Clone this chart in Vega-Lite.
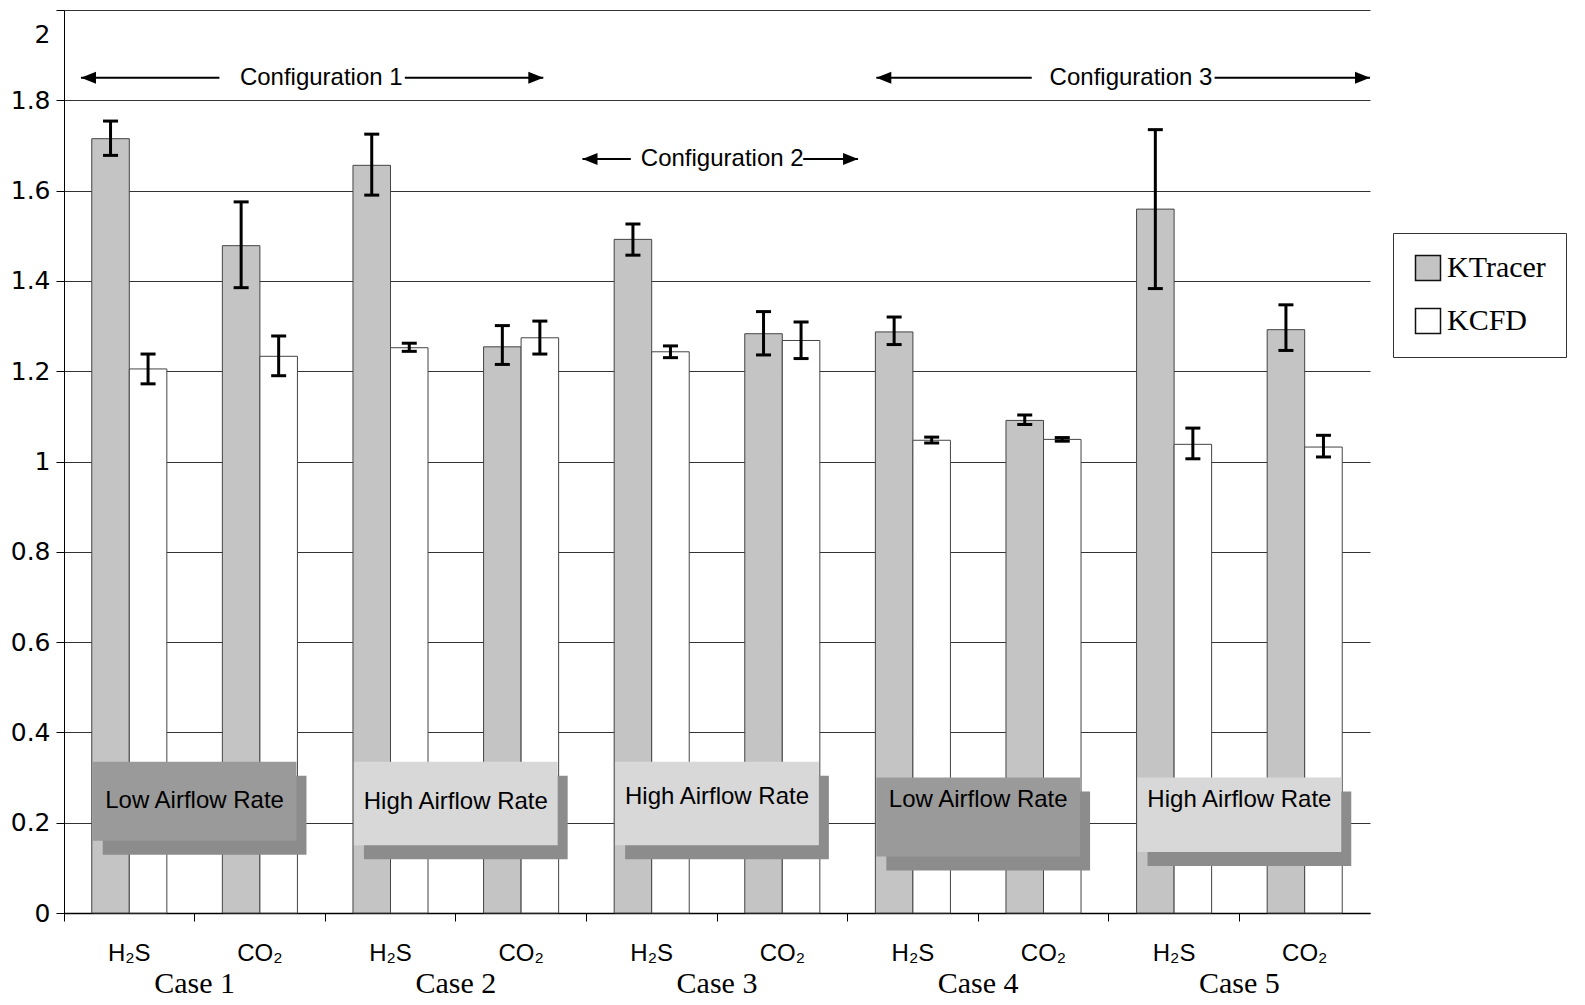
{
  "$schema": "https://vega.github.io/schema/vega-lite/v6.json",
  "width": 1306,
  "height": 903,
  "autosize": {"type": "none"},
  "padding": {"left": 64, "top": 10, "right": 215, "bottom": 92},
  "background": "white",
  "config": {
    "view": {"stroke": null},
    "font": "Liberation Sans",
    "axis": {"labelColor": "black", "domainColor": "black", "tickColor": "black", "labelFont": "Liberation Sans"}
  },
  "datasets": {
    "bars": [
      {"group": "1 H2S", "series": "Tracer", "value": 1.715, "lo": 1.678, "hi": 1.754},
      {"group": "1 H2S", "series": "CFD", "value": 1.205, "lo": 1.172, "hi": 1.238},
      {"group": "1 CO2", "series": "Tracer", "value": 1.478, "lo": 1.385, "hi": 1.575},
      {"group": "1 CO2", "series": "CFD", "value": 1.233, "lo": 1.19, "hi": 1.278},
      {"group": "2 H2S", "series": "Tracer", "value": 1.656, "lo": 1.59, "hi": 1.725},
      {"group": "2 H2S", "series": "CFD", "value": 1.252, "lo": 1.244, "hi": 1.262},
      {"group": "2 CO2", "series": "Tracer", "value": 1.254, "lo": 1.215, "hi": 1.301},
      {"group": "2 CO2", "series": "CFD", "value": 1.274, "lo": 1.238, "hi": 1.311},
      {"group": "3 H2S", "series": "Tracer", "value": 1.492, "lo": 1.457, "hi": 1.526},
      {"group": "3 H2S", "series": "CFD", "value": 1.243, "lo": 1.23, "hi": 1.256},
      {"group": "3 CO2", "series": "Tracer", "value": 1.283, "lo": 1.236, "hi": 1.332},
      {"group": "3 CO2", "series": "CFD", "value": 1.268, "lo": 1.228, "hi": 1.309},
      {"group": "4 H2S", "series": "Tracer", "value": 1.287, "lo": 1.259, "hi": 1.32},
      {"group": "4 H2S", "series": "CFD", "value": 1.047, "lo": 1.041, "hi": 1.054},
      {"group": "4 CO2", "series": "Tracer", "value": 1.091, "lo": 1.082, "hi": 1.103},
      {"group": "4 CO2", "series": "CFD", "value": 1.049, "lo": 1.045, "hi": 1.053},
      {"group": "5 H2S", "series": "Tracer", "value": 1.559, "lo": 1.383, "hi": 1.735},
      {"group": "5 H2S", "series": "CFD", "value": 1.038, "lo": 1.006, "hi": 1.074},
      {"group": "5 CO2", "series": "Tracer", "value": 1.292, "lo": 1.246, "hi": 1.347},
      {"group": "5 CO2", "series": "CFD", "value": 1.032, "lo": 1.01, "hi": 1.058}
    ],
    "boxes": [
      {"case": "Case 1", "kind": "low", "label": "Low Airflow Rate", "top": 0.335, "bot": 0.16, "ty": 0.247},
      {"case": "Case 2", "kind": "high", "label": "High Airflow Rate", "top": 0.335, "bot": 0.15, "ty": 0.245},
      {"case": "Case 3", "kind": "high", "label": "High Airflow Rate", "top": 0.335, "bot": 0.15, "ty": 0.258},
      {"case": "Case 4", "kind": "low", "label": "Low Airflow Rate", "top": 0.3, "bot": 0.125, "ty": 0.25},
      {"case": "Case 5", "kind": "high", "label": "High Airflow Rate", "top": 0.3, "bot": 0.135, "ty": 0.25}
    ],
    "arrowLines": [
      {"x": 0.13, "x2": 1.19, "y": 1.85},
      {"x": 2.61, "x2": 3.67, "y": 1.85},
      {"x": 3.97, "x2": 4.34, "y": 1.67},
      {"x": 5.66, "x2": 6.08, "y": 1.67},
      {"x": 6.22, "x2": 7.41, "y": 1.85},
      {"x": 8.81, "x2": 10.0, "y": 1.85}
    ],
    "arrowHeads": [
      {"x": 0.13, "y": 1.85, "dir": "left"},
      {"x": 3.67, "y": 1.85, "dir": "right"},
      {"x": 3.97, "y": 1.67, "dir": "left"},
      {"x": 6.08, "y": 1.67, "dir": "right"},
      {"x": 6.22, "y": 1.85, "dir": "left"},
      {"x": 10.0, "y": 1.85, "dir": "right"}
    ],
    "configTexts": [
      {"x": 1.97, "y": 1.85, "label": "Configuration 1"},
      {"x": 5.04, "y": 1.67, "label": "Configuration 2"},
      {"x": 8.17, "y": 1.85, "label": "Configuration 3"}
    ]
  },
  "resolve": {"scale": {"x": "independent", "fill": "independent"}, "axis": {"x": "independent"}},
  "layer": [
    {
      "data": {"name": "bars"},
      "encoding": {
        "x": {
          "field": "group", "type": "nominal", "sort": null,
          "scale": {"paddingInner": 0, "paddingOuter": 0},
          "axis": {
            "orient": "bottom", "title": null, "ticks": false, "labelAngle": 0,
            "labelFontSize": 24, "labelPadding": 28, "domainWidth": 1.5,
            "labelExpr": "indexof(datum.label, 'H2S') >= 0 ? 'H₂S' : 'CO₂'"
          }
        },
        "xOffset": {
          "field": "series", "type": "nominal", "sort": ["Tracer", "CFD"],
          "scale": {"paddingInner": 0, "paddingOuter": 0.74}
        }
      },
      "layer": [
        {
          "mark": {"type": "bar", "stroke": "#444", "strokeWidth": 1},
          "encoding": {
            "y": {
              "field": "value", "type": "quantitative",
              "scale": {"domain": [0, 2], "nice": false},
              "axis": {
                "title": null,
                "values": [0, 0.2, 0.4, 0.6, 0.8, 1, 1.2, 1.4, 1.6, 1.8, 2],
                "format": "~g", "grid": true, "gridColor": "#333", "gridWidth": 1,
                "tickSize": 8, "labelFont": "DejaVu Sans", "labelFontSize": 25, "labelPadding": 6,
                "labelOffset": {"condition": {"test": "datum.value == 2", "value": 24}, "value": 0}
              }
            },
            "fill": {
              "field": "series", "type": "nominal",
              "scale": {"domain": ["Tracer", "CFD"], "range": ["#c4c4c4", "#ffffff"]},
              "legend": {
                "orient": "none", "legendX": 1329, "legendY": 223, "title": null,
                "symbolType": "square", "symbolSize": 625, "symbolStrokeColor": "#111",
                "symbolStrokeWidth": 1.5, "labelFont": "Liberation Serif", "labelFontSize": 30,
                "labelColor": "black",
                "labelExpr": "datum.label == 'Tracer' ? 'KTracer' : 'KCFD'",
                "rowPadding": 21, "padding": 20, "strokeColor": "#333", "labelOffset": 4
              }
            }
          }
        },
        {
          "mark": {"type": "rule", "strokeWidth": 3, "color": "black"},
          "encoding": {
            "y": {"field": "lo", "type": "quantitative", "scale": {"domain": [0, 2], "nice": false}},
            "y2": {"field": "hi"}
          }
        },
        {
          "mark": {"type": "tick", "thickness": 3, "size": 15, "color": "black", "opacity": 1},
          "encoding": {
            "y": {"field": "lo", "type": "quantitative", "scale": {"domain": [0, 2], "nice": false}}
          }
        },
        {
          "mark": {"type": "tick", "thickness": 3, "size": 15, "color": "black", "opacity": 1},
          "encoding": {
            "y": {"field": "hi", "type": "quantitative", "scale": {"domain": [0, 2], "nice": false}}
          }
        }
      ]
    },
    {
      "data": {"name": "bars"},
      "mark": {"type": "tick", "opacity": 0},
      "encoding": {
        "x": {
          "field": "group", "type": "nominal", "sort": null,
          "scale": {"paddingInner": 0, "paddingOuter": 0},
          "axis": {"orient": "bottom", "title": null, "labels": false, "domain": false, "ticks": true, "tickSize": 8, "bandPosition": 0, "grid": false}
        },
        "y": {"field": "value", "type": "quantitative", "scale": {"domain": [0, 2], "nice": false}}
      }
    },
    {
      "data": {"name": "boxes"},
      "encoding": {
        "x": {
          "field": "case", "type": "nominal", "sort": null,
          "scale": {"paddingInner": 0.22, "paddingOuter": 0.11},
          "axis": {"orient": "bottom", "title": null, "ticks": false, "domain": false, "labelAngle": 0,
                   "labelFont": "Liberation Serif", "labelFontSize": 30, "labelPadding": 55}
        }
      },
      "layer": [
        {
          "mark": {"type": "bar", "xOffset": 10, "x2Offset": 10, "yOffset": 14, "y2Offset": 14, "fill": "#8c8c8c"},
          "encoding": {
            "y": {"field": "top", "type": "quantitative", "scale": {"domain": [0, 2], "nice": false}},
            "y2": {"field": "bot"}
          }
        },
        {
          "mark": {"type": "bar"},
          "encoding": {
            "y": {"field": "top", "type": "quantitative", "scale": {"domain": [0, 2], "nice": false}},
            "y2": {"field": "bot"},
            "fill": {"field": "kind", "type": "nominal", "scale": {"domain": ["low", "high"], "range": ["#9a9a9a", "#d8d8d8"]}, "legend": null}
          }
        },
        {
          "mark": {"type": "text", "fontSize": 24, "color": "black", "align": "center", "baseline": "middle"},
          "encoding": {
            "y": {"field": "ty", "type": "quantitative", "scale": {"domain": [0, 2], "nice": false}},
            "text": {"field": "label"}
          }
        }
      ]
    },
    {
      "layer": [
        {
          "data": {"name": "arrowLines"},
          "mark": {"type": "rule", "strokeWidth": 2, "color": "black"},
          "encoding": {
            "x": {"field": "x", "type": "quantitative", "scale": {"domain": [0, 10], "nice": false, "zero": false}, "axis": null},
            "x2": {"field": "x2"},
            "y": {"field": "y", "type": "quantitative", "scale": {"domain": [0, 2], "nice": false}}
          }
        },
        {
          "data": {"name": "arrowHeads"},
          "mark": {"type": "point", "filled": true, "opacity": 1, "color": "black", "size": 900, "strokeWidth": 0},
          "encoding": {
            "x": {"field": "x", "type": "quantitative", "scale": {"domain": [0, 10], "nice": false, "zero": false}, "axis": null},
            "y": {"field": "y", "type": "quantitative", "scale": {"domain": [0, 2], "nice": false}},
            "shape": {"field": "dir", "type": "nominal",
                      "scale": {"domain": ["left", "right"], "range": ["M0,0L1,-0.4L1,0.4Z", "M0,0L-1,-0.4L-1,0.4Z"]},
                      "legend": null}
          }
        },
        {
          "data": {"name": "configTexts"},
          "mark": {"type": "text", "fontSize": 24, "color": "black", "align": "center", "baseline": "middle"},
          "encoding": {
            "x": {"field": "x", "type": "quantitative", "scale": {"domain": [0, 10], "nice": false, "zero": false}, "axis": null},
            "y": {"field": "y", "type": "quantitative", "scale": {"domain": [0, 2], "nice": false}},
            "text": {"field": "label"}
          }
        }
      ]
    }
  ]
}
